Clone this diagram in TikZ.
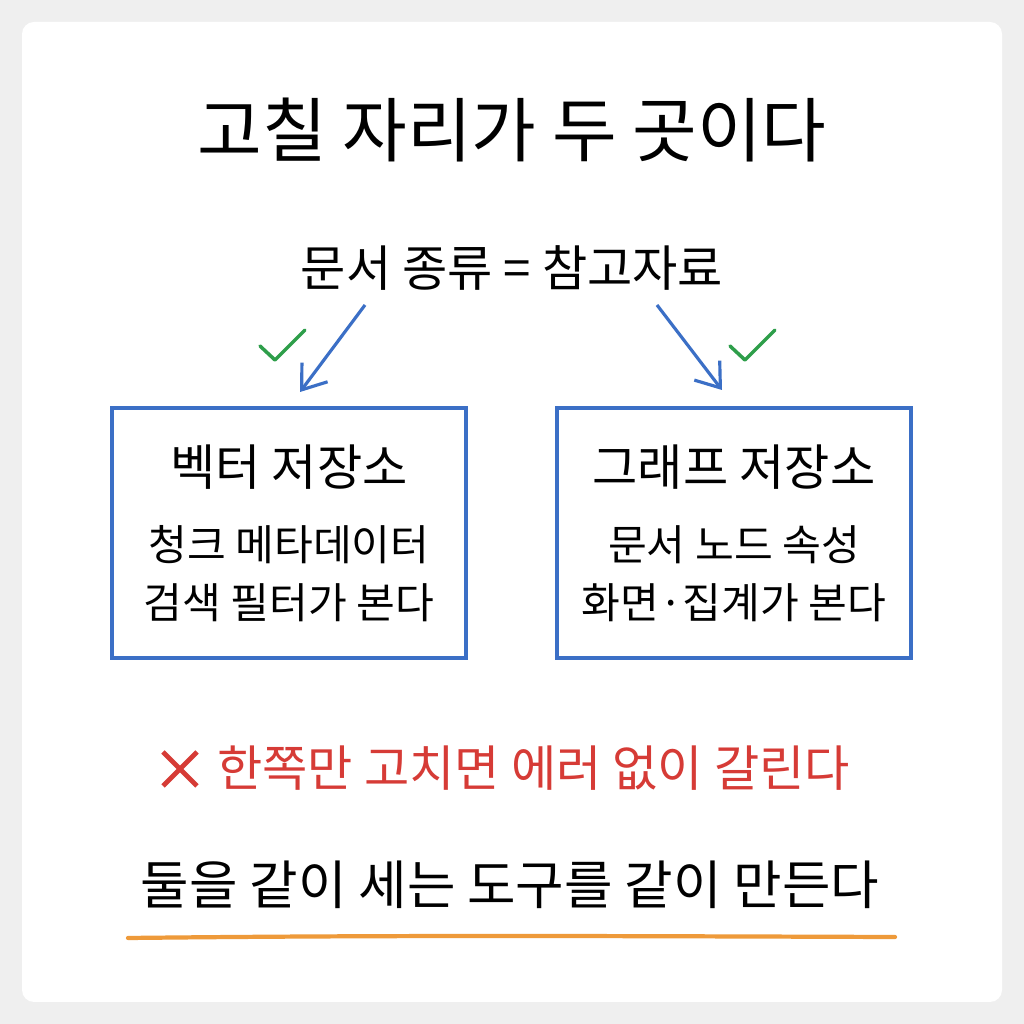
\documentclass[tikz,border=0pt]{standalone}
\usepackage{fontspec}
\setmainfont{Noto Sans CJK KR}
\usetikzlibrary{positioning,arrows.meta}
\definecolor{boxblue}{HTML}{3B6FC6}
\definecolor{okgreen}{HTML}{2E9E4A}
\definecolor{badred}{HTML}{D63B36}
\definecolor{lineorange}{HTML}{EE9A3A}
\definecolor{pagegray}{HTML}{EFEFEF}
\tikzset{
  store/.style={draw=boxblue, line width=0.9pt, minimum width=3.54cm, minimum height=2.5cm},
  head/.style={font=\fontsize{14}{17}\selectfont},
  body/.style={font=\fontsize{12}{15}\selectfont},
  link/.style={draw=boxblue, line width=0.9pt, -{Straight Barb[length=2.2mm,width=3.2mm]}},
  tick/.style={draw=okgreen, line width=1pt, line cap=round, line join=round},
}
\begin{document}
\begin{tikzpicture}[x=1cm,y=1cm]
    \useasboundingbox (0,0) rectangle (10.24,10.24);
    \fill[pagegray] (0,0) rectangle (10.24,10.24);
    \fill[white,rounded corners=0.12cm] (0.22,0.22) rectangle (10.02,10.02);

    % heading
    \node (title) at (5.12,8.94) {\fontsize{20}{24}\selectfont 고칠 자리가 두 곳이다};
    \node (doc) at (5.12,7.56) {\fontsize{14}{17}\selectfont 문서 종류 = 참고자료};

    % two stores
    \node[store] (vec) at (2.89,4.91) {};
    \node[store] (graph) at (7.34,4.91) {};
    \node[head] (vechead) at ([yshift=0.66cm]vec.center) {벡터 저장소};
    \node[body] (vecone) at ([yshift=-0.12cm]vec.center) {청크 메타데이터};
    \node[body] (vectwo) at ([yshift=-0.70cm]vec.center) {검색 필터가 본다};
    \node[head] (graphhead) at ([yshift=0.66cm]graph.center) {그래프 저장소};
    \node[body] (graphone) at ([yshift=-0.12cm]graph.center) {문서 노드 속성};
    \node[body] (graphtwo) at ([yshift=-0.70cm]graph.center) {화면·집계가 본다};

    % arrows
    \coordinate (la) at (3.65,7.19);
    \coordinate (ra) at (6.57,7.19);
    \draw[link] (la) -- (3.00,6.32);
    \draw[link] (ra) -- (7.22,6.34);

    % checks
    \draw[tick] (2.60,6.78) -- (2.75,6.64) -- (3.05,6.94);
    \draw[tick] (7.30,6.78) -- (7.45,6.64) -- (7.75,6.94);

    % warning
    \draw[badred, line width=1.4pt] (1.63,2.72) -- (1.97,2.38) (1.63,2.38) -- (1.97,2.72);
    \node[text=badred, anchor=west] (warn) at (2.05,2.56) {\fontsize{14}{17}\selectfont 한쪽만 고치면 에러 없이 갈린다};

    % conclusion
    \node (fix) at (5.10,1.39) {\fontsize{15}{18}\selectfont 둘을 같이 세는 도구를 같이 만든다};
    \draw[lineorange, line width=1.2pt, line cap=round] (1.28,0.86) .. controls (4,0.89) and (6,0.88) .. (8.95,0.87);
\end{tikzpicture}
\end{document}
